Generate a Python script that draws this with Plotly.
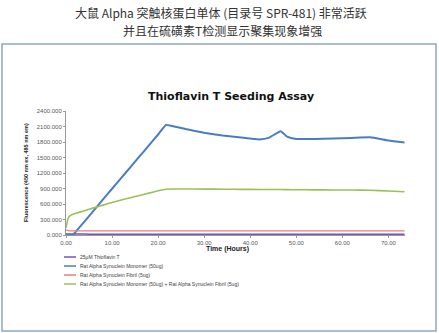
import plotly.graph_objects as go

# Measurement times (hours)
time_h = [0, 0.5, 1, 1.5, 2, 4, 6, 8, 10, 12, 14, 16, 18, 20, 21.7, 23, 26, 30,
          34, 38, 42, 44, 46.6, 48, 50, 54, 58, 62, 66, 70, 73.5]

# Fluorescence readings (450 nm ex, 485 nm em)
thioflavin_only = [18, 18, 17, 17, 17, 17, 16, 16, 16, 16, 16, 16, 16, 16, 16, 16, 16, 16,
                   16, 16, 16, 16, 16, 16, 16, 16, 16, 16, 16, 16, 16]
monomer_50ug = [0, 0, 0, 0, 50, 260, 470, 685, 895, 1105, 1315, 1525, 1735, 1945, 2130,
                2110, 2050, 1980, 1925, 1885, 1850, 1880, 2010, 1905, 1860, 1860, 1868,
                1878, 1890, 1830, 1790]
fibril_5ug = [100, 85, 80, 78, 78, 78, 78, 78, 78, 78, 78, 78, 78, 78, 78, 78, 78, 78,
              78, 78, 78, 78, 78, 78, 78, 78, 78, 78, 78, 78, 78]
monomer_plus_fibril = [140, 330, 380, 400, 415, 470, 525, 578, 628, 678, 722, 766, 810,
                       855, 885, 890, 890, 888, 886, 884, 882, 880, 880, 878, 876, 874,
                       872, 870, 866, 852, 838]

series_names = [
    "25\u03bcM Thioflavin T",
    "Rat Alpha Synuclein Monomer (50ug)",
    "Rat Alpha Synuclein Fibril (5ug)",
    "Rat Alpha Synuclein Monomer (50ug) + Rat Alpha Synuclein Fibril (5ug)",
]
series_values = [thioflavin_only, monomer_50ug, fibril_5ug, monomer_plus_fibril]
series_colors = ["#7A4FBF", "#4A7CC3", "#E58080", "#9BC058"]
series_widths = [1.5, 2.0, 1.3, 1.6]

y_ticks = [0, 300, 600, 900, 1200, 1500, 1800, 2100, 2400]
y_tick_text = ["0.000", "300.000", "600.000", "900.000", "1200.000", "1500.000",
               "1800.000", "2100.000", "2400.000"]
x_ticks = [0, 10, 20, 30, 40, 50, 60, 70]
x_tick_text = ["0.00", "10.00", "20.00", "30.00", "40.00", "50.00", "60.00", "70.00"]

W, H = 439, 333
L, R, T, B = 66, 34, 111, 98
PW, PH = W - L - R, H - T - B


def px(x):
    return (x - L) / PW


def py(y):
    return (H - B - y) / PH


fig = go.Figure()
for name, vals, col, wd in zip(series_names, series_values, series_colors, series_widths):
    fig.add_trace(go.Scatter(x=time_h, y=vals, mode="lines", name=name,
                             line=dict(color=col, width=wd, shape="spline", smoothing=0.4),
                             showlegend=False))

tick_font = dict(family="Liberation Sans, Arial", size=6, color="#595959")

fig.update_xaxes(range=[0, 73.6], tickvals=x_ticks, ticktext=x_tick_text,
                 showgrid=False, zeroline=False, showline=True, linecolor="#9A9A9A",
                 linewidth=1, ticks="outside", ticklen=2, tickcolor="#9A9A9A",
                 tickfont=tick_font)
fig.update_yaxes(range=[0, 2400], tickvals=y_ticks, ticktext=y_tick_text,
                 showgrid=False, zeroline=False, showline=True, linecolor="#9A9A9A",
                 linewidth=1, ticks="outside", ticklen=2, tickcolor="#9A9A9A",
                 tickfont=tick_font)

title_font = dict(family="Noto Sans CJK SC", size=12, color="#333333")
annotations = [
    dict(text="大鼠 Alpha 突触核蛋白单体 (目录号 SPR-481) 非常活跃",
         x=px(221), y=py(12.5), font=title_font, borderpad=0),
    dict(text="并且在硫磺素T检测显示聚集现象增强",
         x=px(222), y=py(30.5), font=title_font, borderpad=0),
    dict(text="<b>Thioflavin T Seeding Assay</b>",
         x=px(231), y=py(96), font=dict(family="DejaVu Sans", size=11, color="#111111")),
    dict(text="<b>Time (Hours)</b>",
         x=px(227), y=py(249), font=dict(family="Liberation Sans, Arial", size=7, color="#222222")),
    dict(text="<b>Fluorescence (450 nm ex, 485 nm em)</b>", textangle=-90,
         x=px(26), y=py(173), font=dict(family="Liberation Sans, Arial", size=5.5, color="#222222")),
]
for a in annotations:
    a.update(xref="paper", yref="paper", showarrow=False, xanchor="center", yanchor="middle")

shapes = [
    dict(type="rect", xref="paper", yref="paper", x0=px(2), x1=px(436), y0=py(331), y1=py(44),
         line=dict(color="#8EA6C6", width=1.5), fillcolor="rgba(0,0,0,0)", layer="below"),
]

legend_rows = [257, 266, 275, 284]
for name, col, yy in zip(series_names, series_colors, legend_rows):
    shapes.append(dict(type="line", xref="paper", yref="paper", x0=px(64), x1=px(76),
                       y0=py(yy), y1=py(yy), line=dict(color=col, width=1.5)))
    annotations.append(dict(text=name, xref="paper", yref="paper", x=px(78), y=py(yy),
                            xanchor="left", yanchor="middle", showarrow=False,
                            font=dict(family="Liberation Sans, Arial", size=5, color="#404040")))

fig.update_layout(width=W, height=H, margin=dict(l=L, r=R, t=T, b=B),
                  paper_bgcolor="white", plot_bgcolor="white",
                  annotations=annotations, shapes=shapes)

fig.write_html("out.html")
